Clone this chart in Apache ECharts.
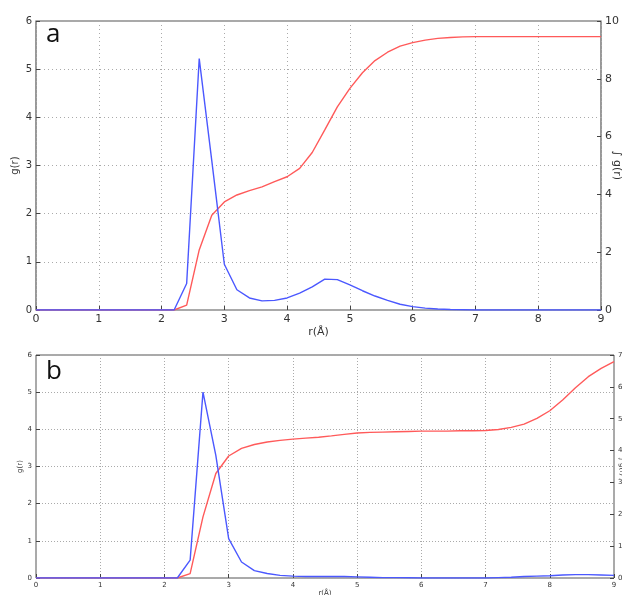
<!DOCTYPE html>
<html lang="en">
<head>
    <meta charset="UTF-8">
    <title>g(r)</title>
    <script src="https://cdn.jsdelivr.net/npm/echarts@6/dist/echarts.min.js"></script>
    <style type="text/css">
        html, body { margin: 0; padding: 0; background: #fff; }
        #main { width: 622px; height: 595px; }
    </style>
</head>
<body>
<div id="main"></div>
<script>
    // r in angstrom, step 0.2
    const r = [0, 0.2, 0.4, 0.6, 0.8, 1.0, 1.2, 1.4, 1.6, 1.8, 2.0, 2.2, 2.4, 2.6, 2.8, 3.0,
        3.2, 3.4, 3.6, 3.8, 4.0, 4.2, 4.4, 4.6, 4.8, 5.0, 5.2, 5.4, 5.6, 5.8, 6.0,
        6.2, 6.4, 6.6, 6.8, 7.0, 7.2, 7.4, 7.6, 7.8, 8.0, 8.2, 8.4, 8.6, 8.8, 9.0];

    // panel a
    const g_a = [0, 0, 0, 0, 0, 0, 0, 0, 0, 0, 0, 0, 0.55, 5.22, 3.1, 0.95,
        0.42, 0.25, 0.19, 0.2, 0.25, 0.35, 0.48, 0.64, 0.63, 0.52, 0.4, 0.29, 0.2, 0.12, 0.07,
        0.04, 0.02, 0.01, 0.005, 0, 0, 0, 0, 0, 0, 0, 0, 0, 0, 0];
    const int_a = [0, 0, 0, 0, 0, 0, 0, 0, 0, 0, 0, 0, 0.17, 2.08, 3.28, 3.74,
        3.98, 4.13, 4.26, 4.44, 4.61, 4.9, 5.45, 6.23, 7.03, 7.67, 8.21, 8.63, 8.92, 9.13, 9.25,
        9.34, 9.4, 9.43, 9.45, 9.46, 9.46, 9.46, 9.46, 9.46, 9.46, 9.46, 9.46, 9.46, 9.46, 9.46];

    // panel b
    const g_b = [0, 0, 0, 0, 0, 0, 0, 0, 0, 0, 0, 0, 0.48, 5.0, 3.3, 1.06,
        0.43, 0.2, 0.12, 0.07, 0.05, 0.04, 0.04, 0.04, 0.04, 0.03, 0.02, 0.01, 0.01, 0.005, 0,
        0, 0, 0, 0, 0, 0.01, 0.02, 0.04, 0.05, 0.06, 0.08, 0.09, 0.09, 0.08, 0.07];
    const int_b = [0, 0, 0, 0, 0, 0, 0, 0, 0, 0, 0, 0, 0.14, 1.92, 3.28, 3.83,
        4.07, 4.19, 4.27, 4.32, 4.36, 4.39, 4.42, 4.46, 4.51, 4.55, 4.57, 4.58, 4.59, 4.6, 4.61,
        4.61, 4.61, 4.62, 4.62, 4.63, 4.66, 4.73, 4.83, 5.01, 5.25, 5.59, 5.97, 6.32, 6.58, 6.79];

    const blue = '#4b58ff';
    const red = '#ff5a5a';
    const font = 'DejaVu Sans';

    function pairs(xs, ys) {
        return xs.map((x, i) => [x, ys[i]]);
    }

    function xAx(idx, size, gap, dot) {
        return {
            gridIndex: idx, type: 'value', min: 0, max: 9, interval: 1,
            name: 'r(Å)', nameLocation: 'middle', nameGap: gap, nameMoveOverlap: false,
            nameTextStyle: {fontFamily: font, fontSize: size, color: '#333'},
            axisLine: {show: false},
            axisTick: {inside: true, length: 4, lineStyle: {color: '#444'}},
            axisLabel: {fontFamily: font, fontSize: size, color: '#333', margin: 4},
            splitLine: {lineStyle: {type: dot, color: '#aaa'}}
        };
    }

    function yAx(idx, pos, max, interval, name, size, gap, rot, grid, dot) {
        return {
            gridIndex: idx, type: 'value', position: pos, min: 0, max: max, interval: interval,
            name: name, nameLocation: 'middle', nameGap: gap, nameRotate: rot, nameMoveOverlap: false,
            nameTextStyle: {fontFamily: font, fontSize: size, color: '#333'},
            axisLine: {show: false},
            axisTick: {inside: true, length: 4, lineStyle: {color: '#444'}},
            axisLabel: {fontFamily: font, fontSize: size, color: '#333', margin: 4},
            splitLine: {show: grid, lineStyle: {type: dot, color: '#aaa'}}
        };
    }

    function line(xi, yi, data, color) {
        return {
            type: 'line', xAxisIndex: xi, yAxisIndex: yi, data: data,
            showSymbol: false, silent: true,
            lineStyle: {color: color, width: 1.4}
        };
    }

    var myChart = echarts.init(document.getElementById('main'));

    var option = {
        animation: false,
        grid: [
            {left: 36, top: 21, width: 565, height: 289, outerBoundsMode: 'none', containLabel: false,
                show: true, borderColor: '#555', borderWidth: 1.2},
            {left: 36, top: 355, width: 578, height: 223, outerBoundsMode: 'none', containLabel: false,
                show: true, borderColor: '#555', borderWidth: 1}
        ],
        xAxis: [xAx(0, 11, 17, [1, 3]), xAx(1, 7, 12, [1, 2])],
        yAxis: [
            yAx(0, 'left', 6, 1, 'g(r)', 10, 16, 90, true, [1, 3]),
            yAx(0, 'right', 10, 2, '∫ g(r)', 11, 10, -90, false, [1, 3]),
            yAx(1, 'left', 6, 1, 'g(r)', 7, 12, 90, true, [1, 2]),
            yAx(1, 'right', 7, 1, '∫ g(r)', 7, 4, -90, false, [1, 2])
        ],
        graphic: [
            {type: 'text', left: 46, top: 22, style: {text: 'a', font: '26px "Open Sans"', fill: '#111'}},
            {type: 'text', left: 46, top: 359, style: {text: 'b', font: '26px "Open Sans"', fill: '#111'}}
        ],
        series: [
            line(0, 1, pairs(r, int_a), red),
            line(0, 0, pairs(r, g_a), blue),
            line(1, 3, pairs(r, int_b), red),
            line(1, 2, pairs(r, g_b), blue)
        ]
    };

    myChart.setOption(option);
</script>
</body>
</html>
